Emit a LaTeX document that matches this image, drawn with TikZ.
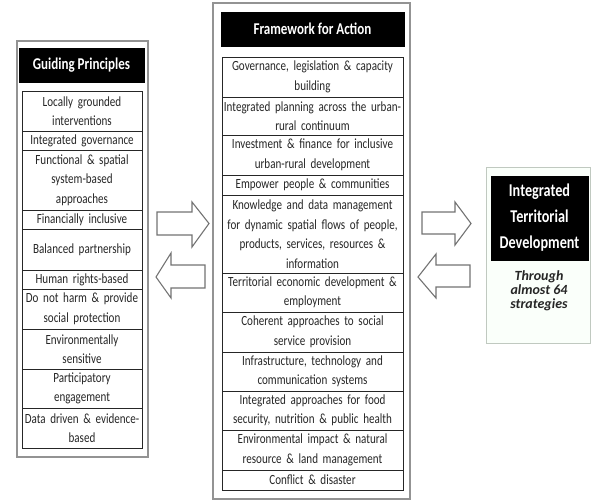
\documentclass[tikz,border=0pt]{standalone}
\usepackage{fontspec}
\setmainfont{Carlito}[FakeStretch=0.79]
\newfontfamily\widefont{Carlito}[FakeStretch=1.0]
\begin{document}
\begin{tikzpicture}[x=1pt,y=-1pt,
  panel/.style={draw=gray!85,line width=1.3pt,fill=white},
  header/.style={fill=black,draw=black,text=white,inner sep=0pt,align=center,
    font=\fontsize{16.5}{19}\selectfont\bfseries},
  item/.style={draw=black!85,line width=0.8pt,inner sep=0pt,align=center,
    font=\fontsize{14}{19.5}\selectfont,text=black!85},
  litem/.style={item,minimum width=120pt,text width=118pt},
  mitem/.style={item,minimum width=181pt,text width=179pt},
  blockarrow/.style={draw=black!55,line width=1.1pt,fill=white,line join=miter}
]
\useasboundingbox (0,0) rectangle (593,500);

% ---------- left panel ----------
\draw[panel] (17,41) rectangle (148,457);
\node[header,minimum width=125pt,minimum height=34pt] (gp) at (81.5,65) {Guiding Principles};
\node[litem,minimum height=40pt] (l1) at (82,111) {Locally grounded\\interventions};
\node[litem,minimum height=19pt] (l2) at (82,140.5) {Integrated governance};
\node[litem,minimum height=60pt] (l3) at (82,180) {Functional \& spatial\\system-based\\approaches};
\node[litem,minimum height=19pt] (l4) at (82,219.5) {Financially inclusive};
\node[litem,minimum height=41pt] (l5) at (82,249.5) {Balanced partnership};
\node[litem,minimum height=19pt] (l6) at (82,279.5) {Human rights-based};
\node[litem,minimum height=40pt] (l7) at (82,309) {Do not harm \& provide\\social protection};
\node[litem,minimum height=40pt] (l8) at (82,349) {Environmentally\\sensitive};
\node[litem,minimum height=39pt] (l9) at (82,388.5) {Participatory\\engagement};
\node[litem,minimum height=40pt] (l10) at (82,428) {Data driven \& evidence-\\based};

% ---------- middle panel ----------
\draw[panel] (213,3) rectangle (410,499);
\node[header,minimum width=183pt,minimum height=34pt] (fa) at (312.5,29) {Framework for Action};
\node[mitem,minimum height=40pt] (m1) at (312.5,77) {Governance, legislation \& capacity\\building};
\node[mitem,minimum height=38pt] (m2) at (312.5,116) {Integrated planning across the urban-\\rural continuum};
\node[mitem,minimum height=40pt] (m3) at (312.5,155) {Investment \& finance for inclusive\\urban-rural development};
\node[mitem,minimum height=20pt] (m4) at (312.5,185) {Empower people \& communities};
\node[mitem,minimum height=78pt] (m5) at (312.5,234) {Knowledge and data management\\for dynamic spatial flows of people,\\products, services, resources \&\\information};
\node[mitem,minimum height=39pt] (m6) at (312.5,292.5) {Territorial economic development \&\\employment};
\node[mitem,minimum height=40pt] (m7) at (312.5,332) {Coherent approaches to social\\service provision};
\node[mitem,minimum height=39pt] (m8) at (312.5,371.5) {Infrastructure, technology and\\communication systems};
\node[mitem,minimum height=39pt] (m9) at (312.5,410.5) {Integrated approaches for food\\security, nutrition \& public health};
\node[mitem,minimum height=40pt] (m10) at (312.5,450) {Environmental impact \& natural\\resource \& land management};
\node[mitem,minimum height=20pt] (m11) at (312.5,480) {Conflict \& disaster};

% ---------- right panel ----------
\draw[draw=black!20!green!10!gray!45,line width=1pt,fill=green!2!white] (486,167) rectangle (590,343);
\node[header,minimum width=97pt,minimum height=84pt,
  font=\fontsize{18}{26}\selectfont\bfseries] (itd) at (539.5,218) {Integrated\\Territorial\\Development};
\node[align=center,inner sep=0pt,text=black!85,
  font=\widefont\fontsize{14}{14}\selectfont\bfseries\itshape] (thr) at (539,291) {Through\\almost 64\\strategies};

% ---------- block arrows ----------
\draw[blockarrow] (157,212) -- (192,212) -- (192,202) -- (209,223.5) -- (192,247) -- (192,235) -- (157,235) -- cycle;
\draw[blockarrow] (205,265) -- (171,265) -- (171,253) -- (156,277) -- (171,298) -- (171,288) -- (205,288) -- cycle;
\draw[blockarrow] (422,212) -- (455,212) -- (455,202) -- (471,223.5) -- (455,245) -- (455,234) -- (422,234) -- cycle;
\draw[blockarrow] (470,265) -- (436,265) -- (436,254) -- (418,277) -- (436,298) -- (436,287) -- (470,287) -- cycle;
\end{tikzpicture}
\end{document}
